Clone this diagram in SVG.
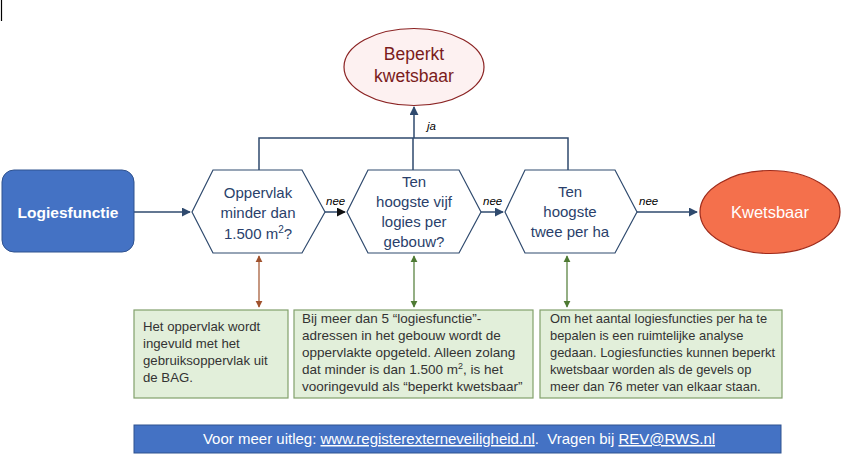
<svg xmlns="http://www.w3.org/2000/svg" width="850" height="468" viewBox="0 0 850 468">
<style>
text{font-family:"Liberation Sans",Arial,sans-serif}
.hex{fill:#fff;stroke:#2F4A6E;stroke-width:1.2}
.ht{fill:#2A3F6B;font-size:15px;text-anchor:middle}
.conn{fill:none;stroke:#2F4A6E;stroke-width:1.5}
.lbl{font-size:11.5px;font-style:italic;fill:#000}
.note{fill:#E2EFDA;stroke:#82A06C;stroke-width:1.2}
.nt{font-size:13.5px;fill:#333}
</style>
<defs>
<marker id="ab" viewBox="0 0 10 10" refX="9" refY="5" markerWidth="6" markerHeight="6" orient="auto-start-reverse"><path d="M0,0 L10,5 L0,10 z" fill="#2F4A6E"/></marker>
<marker id="ak" viewBox="0 0 10 10" refX="9" refY="5" markerWidth="6" markerHeight="6" orient="auto-start-reverse"><path d="M0,0 L10,5 L0,10 z" fill="#111"/></marker>
<marker id="abr" viewBox="0 0 10 10" refX="9" refY="5" markerWidth="6" markerHeight="6" orient="auto-start-reverse"><path d="M0,0 L10,5 L0,10 z" fill="#A0522D"/></marker>
<marker id="agr" viewBox="0 0 10 10" refX="9" refY="5" markerWidth="6" markerHeight="6" orient="auto-start-reverse"><path d="M0,0 L10,5 L0,10 z" fill="#4E7A33"/></marker>
</defs>
<line x1="1.5" y1="0" x2="1.5" y2="21" stroke="#000" stroke-width="1.2"/>

<g id="connectors">
<path class="conn" d="M134,212 H190" marker-end="url(#ab)"/>
<path class="conn" d="M325,212 H345" stroke="#111" marker-end="url(#ak)"/>
<path class="conn" d="M481,212 H503" marker-end="url(#ab)"/>
<path class="conn" d="M637,212 H697" marker-end="url(#ab)"/>
<path class="conn" d="M259,170 V138 H568 V170 M413,170 V138"/>
<path class="conn" d="M414,138 V107" marker-end="url(#ab)"/>
<text class="lbl" x="427" y="130">ja</text>
<text class="lbl" x="326" y="205">nee</text>
<text class="lbl" x="483" y="205">nee</text>
<text class="lbl" x="639" y="205">nee</text>
<path d="M259,256 V307" stroke="#A0522D" stroke-width="1.2" marker-start="url(#abr)" marker-end="url(#abr)"/>
<path d="M414,256 V307" stroke="#4E7A33" stroke-width="1.2" marker-start="url(#agr)" marker-end="url(#agr)"/>
<path d="M567,256 V307" stroke="#4E7A33" stroke-width="1.2" marker-start="url(#agr)" marker-end="url(#agr)"/>
</g>

<g id="logiesfunctie">
<rect x="2" y="170" width="132" height="82" rx="12" fill="#4472C4" stroke="#2F528F" stroke-width="1"/>
<text x="68" y="218" font-size="15.5" font-weight="bold" fill="#fff" text-anchor="middle">Logiesfunctie</text>
</g>

<g id="hex1">
<polygon class="hex" points="192,212 213,170 302,170 325,212 302,253 213,253"/>
<text class="ht" x="258" y="198">Oppervlak</text>
<text class="ht" x="258" y="218">minder dan</text>
<text class="ht" x="258" y="239">1.500 m<tspan font-size="10" dy="-6">2</tspan><tspan dy="6">?</tspan></text>
</g>

<g id="hex2">
<polygon class="hex" points="347,212 368,170 459,170 481,212 459,253 368,253"/>
<text class="ht" x="414" y="187">Ten</text>
<text class="ht" x="414" y="207">hoogste vijf</text>
<text class="ht" x="414" y="227">logies per</text>
<text class="ht" x="414" y="247">gebouw?</text>
</g>

<g id="hex3">
<polygon class="hex" points="505,212 525,170 615,170 637,212 615,253 525,253"/>
<text class="ht" x="570" y="197">Ten</text>
<text class="ht" x="570" y="217">hoogste</text>
<text class="ht" x="570" y="237">twee per ha</text>
</g>

<g id="beperkt">
<ellipse cx="414" cy="67" rx="70" ry="38.5" fill="#FDF1F1" stroke="#8B2323" stroke-width="1.2"/>
<text x="414" y="60" font-size="17.5" fill="#7B1C1C" text-anchor="middle">Beperkt</text>
<text x="414" y="82" font-size="17.5" fill="#7B1C1C" text-anchor="middle">kwetsbaar</text>
</g>

<g id="kwetsbaar">
<ellipse cx="770" cy="212" rx="70" ry="41.5" fill="#F4704C" stroke="#9E2A1A" stroke-width="1.2"/>
<text x="770" y="218" font-size="16.5" fill="#fff" text-anchor="middle">Kwetsbaar</text>
</g>

<g id="note1">
<rect class="note" x="134" y="310" width="154" height="88"/>
<text class="nt" x="143" y="331" style="font-size:13.2px">Het oppervlak wordt</text>
<text class="nt" x="143" y="348" style="font-size:13.2px">ingevuld met het</text>
<text class="nt" x="143" y="365" style="font-size:13.2px">gebruiksoppervlak uit</text>
<text class="nt" x="143" y="382" style="font-size:13.2px">de BAG.</text>
</g>

<g id="note2">
<rect class="note" x="294" y="310" width="239" height="88"/>
<text class="nt" x="302" y="323">Bij meer dan 5 “logiesfunctie”-</text>
<text class="nt" x="302" y="340">adressen in het gebouw wordt de</text>
<text class="nt" x="302" y="357">oppervlakte opgeteld. Alleen zolang</text>
<text class="nt" x="302" y="374">dat minder is dan 1.500 m<tspan font-size="9" dy="-5">2</tspan><tspan dy="5">, is het</tspan></text>
<text class="nt" x="302" y="391">vooringevuld als “beperkt kwetsbaar”</text>
</g>

<g id="note3">
<rect class="note" x="540" y="310" width="242" height="88"/>
<text class="nt" x="550" y="323" style="font-size:12.9px">Om het aantal logiesfuncties per ha te</text>
<text class="nt" x="550" y="340" style="font-size:12.9px">bepalen is een ruimtelijke analyse</text>
<text class="nt" x="550" y="357" style="font-size:12.9px">gedaan. Logiesfuncties kunnen beperkt</text>
<text class="nt" x="550" y="374" style="font-size:12.9px">kwetsbaar worden als de gevels op</text>
<text class="nt" x="550" y="391" style="font-size:12.9px">meer dan 76 meter van elkaar staan.</text>
</g>

<g id="footer">
<rect x="134" y="425" width="647" height="28" fill="#4472C4" stroke="#2F528F" stroke-width="1"/>
<text x="459" y="444" font-size="15" fill="#fff" text-anchor="middle" xml:space="preserve">Voor meer uitleg: <tspan text-decoration="underline">www.registerexterneveiligheid.nl</tspan>.  Vragen bij <tspan text-decoration="underline">REV@RWS.nl</tspan></text>
</g>
</svg>
